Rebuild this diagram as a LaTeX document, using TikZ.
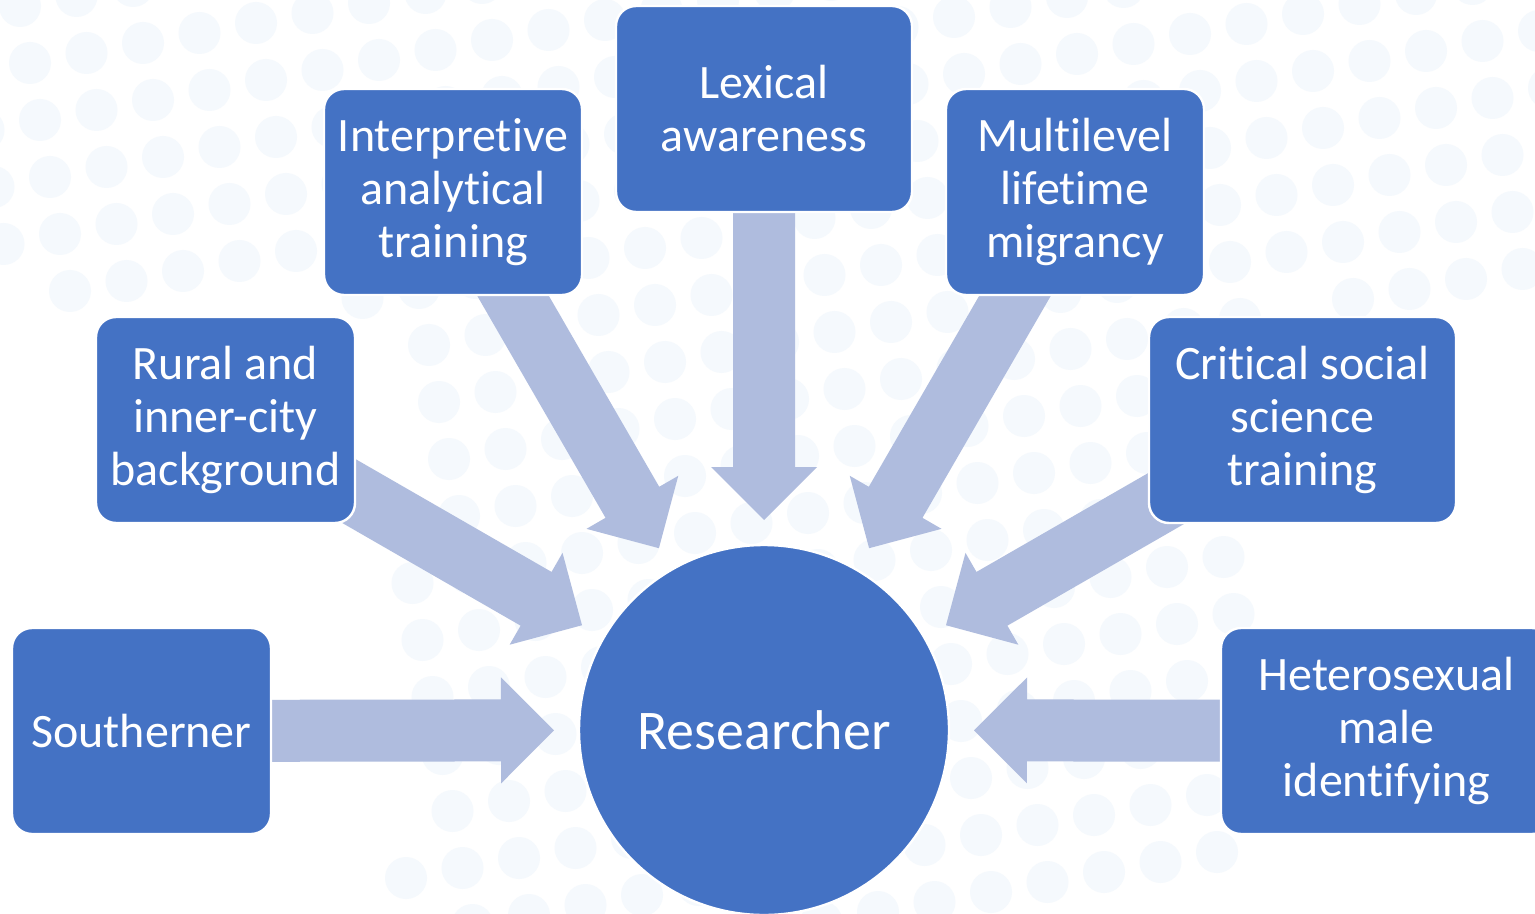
\documentclass[tikz,border=0pt]{standalone}
\usepackage{fontspec}
\setmainfont{Carlito}[Ligatures=NoCommon]
\usetikzlibrary{calc}

\definecolor{boxblue}{HTML}{4472C4}
\definecolor{arrowblue}{HTML}{AFBCDE}
\definecolor{dotblue}{HTML}{F5F9FD}

\pgfdeclarelayer{dotlayer}
\pgfdeclarelayer{arrowlayer}
\pgfsetlayers{dotlayer,arrowlayer,main}

% Block arrow from the centre of a box towards the hub, tip 105pt from the hub centre
\newcommand{\feedarrow}[1]{%
  \coordinate (tip) at ($(res.center)!105pt!(#1.center)$);
  \coordinate (hb) at ($(tip)!26.5pt!(#1.center)$);
  \fill[arrowfill] (tip)
    -- ($(hb)!26.5pt!90:(tip)$)
    -- ($(hb)!15.5pt!90:(tip)$)
    -- ($(#1.center)!15.5pt!90:(hb)$)
    -- ($(#1.center)!15.5pt!-90:(hb)$)
    -- ($(hb)!15.5pt!-90:(tip)$)
    -- ($(hb)!26.5pt!-90:(tip)$)
    -- cycle;%
}

\begin{document}
\begin{tikzpicture}[x=0.5pt,y=-0.5pt,
  box/.style={draw=white, line width=1.2pt, fill=boxblue, rounded corners=10pt,
    text=white, align=center, font=\fontsize{24}{26.5}\selectfont,
    inner sep=0pt, minimum height=103pt},
  hub/.style={circle, draw=white, line width=1.2pt, fill=boxblue, text=white,
    minimum size=185pt, inner sep=0pt, font=\fontsize{28}{32}\selectfont},
  arrowfill/.style={fill=arrowblue}]
\useasboundingbox (0,0) rectangle (1535,914);
\clip (0,0) rectangle (1535,914);

% faint dotted backdrop: whole dots, kept to the upper band and the middle
\begin{pgfonlayer}{dotlayer}
  \fill[white] (0,0) rectangle (1535,914);
  \foreach \i in {-3,...,28}{
    \foreach \j in {-3,...,17}{
      \pgfmathsetmacro{\dx}{30+56.5*\i+10*\j}
      \pgfmathsetmacro{\dy}{63-10*\i+57*\j}
      \pgfmathtruncatemacro{\keep}{(\dy<300) || (\dx>400 && \dx<1250)}
      \ifnum\keep=1
        \fill[dotblue] (\dx,\dy) circle[radius=21];
      \fi
    }
  }
\end{pgfonlayer}

% surrounding boxes
\node[box, minimum width=129.5pt] (south)  at (141.5,731)  {Southerner};
\node[box, minimum width=129.5pt] (rural)  at (225.5,420)  {Rural and\\inner-city\\background};
\node[box, minimum width=129pt]   (interp) at (453,192)    {Interpretive\\analytical\\training};
\node[box, minimum width=148pt]   (lex)    at (764,109)    {Lexical\\awareness};
\node[box, minimum width=129pt]   (multi)  at (1075,192)   {Multilevel\\lifetime\\migrancy};
\node[box, minimum width=153.5pt] (crit)   at (1302.5,420) {Critical social\\science\\training};
\node[box, minimum width=165.5pt] (hetero) at (1386.5,731) {Heterosexual\\male\\identifying};

% central hub
\node[hub] (res) at (764,730) {Researcher};

% arrows into the hub
\begin{pgfonlayer}{arrowlayer}
  \foreach \n in {south,rural,interp,lex,multi,crit,hetero}{\feedarrow{\n}}
\end{pgfonlayer}
\end{tikzpicture}
\end{document}
